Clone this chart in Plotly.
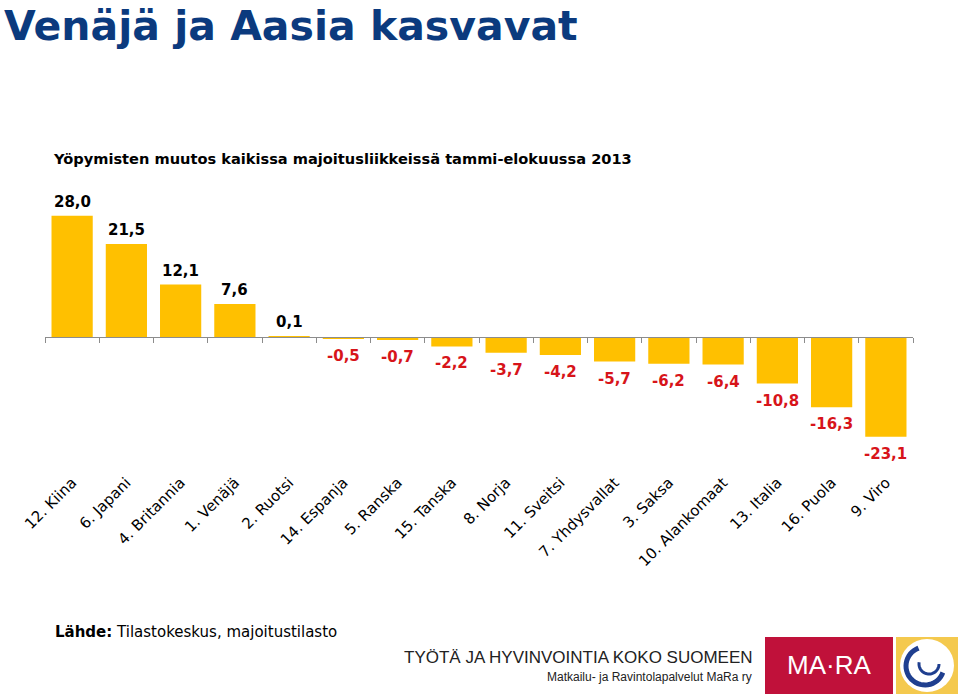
import math
import plotly.graph_objects as go

categories = ["12. Kiina", "6. Japani", "4. Britannia", "1. Venäjä", "2. Ruotsi",
              "14. Espanja", "5. Ranska", "15. Tanska", "8. Norja", "11. Sveitsi",
              "7. Yhdysvallat", "3. Saksa", "10. Alankomaat", "13. Italia",
              "16. Puola", "9. Viro"]
values = [28.0, 21.5, 12.1, 7.6, 0.1, -0.5, -0.7, -2.2, -3.7, -4.2, -5.7,
          -6.2, -6.4, -10.8, -16.3, -23.1]

labels = [f"{v:.1f}".replace(".", ",") for v in values]
label_colors = ["#000000" if v >= 0 else "#D7141A" for v in values]

# plot area geometry (pixels)
L, R, T, B = 45, 913, 199, 470
W, H = 960, 696
YMIN, YMAX = -30.8, 31.9

fig = go.Figure()
fig.add_trace(go.Bar(x=categories, y=values, marker_color="#FFC000",
                     marker_line_width=0, showlegend=False, hoverinfo="skip",
                     xaxis="x", yaxis="y"))
# carrier for the zero-line axis with boundary ticks
fig.add_trace(go.Scatter(x=categories, y=[0] * len(categories), mode="markers",
                         marker=dict(opacity=0), showlegend=False, hoverinfo="skip",
                         xaxis="x2", yaxis="y"))

for c, v, t, col in zip(categories, values, labels, label_colors):
    fig.add_annotation(x=c, y=v, text=f"<b>{t}</b>", showarrow=False,
                       xref="x", yref="y",
                       yanchor="bottom" if v >= 0 else "top",
                       yshift=3 if v >= 0 else -6,
                       font=dict(family="DejaVu Sans", size=15, color=col))

zero_pos = -YMIN / (YMAX - YMIN)
n = len(categories)

fig.update_layout(
    width=W, height=H,
    paper_bgcolor="white", plot_bgcolor="white",
    margin=dict(l=L, r=W - R, t=T, b=H - B, autoexpand=False),
    bargap=0.24,
    xaxis=dict(type="category", range=[-0.5, n - 0.5], ticks="", showline=False,
               tickangle=-45, showgrid=False, automargin=False, fixedrange=True,
               tickfont=dict(family="DejaVu Sans", size=15, color="#000000")),
    xaxis2=dict(type="category", range=[-0.5, n - 0.5], overlaying="x", anchor="free",
                position=zero_pos, side="bottom", tickson="boundaries", ticks="outside",
                ticklen=5, tickcolor="#8C8C8C", showline=True, linecolor="#8C8C8C",
                linewidth=1, showticklabels=False, showgrid=False, automargin=False),
    yaxis=dict(range=[YMIN, YMAX], visible=False, showgrid=False, zeroline=False,
               automargin=False),
    font=dict(family="DejaVu Sans"),
)


def px(pix):
    return (pix - L) / (R - L)


def py(pix):
    return (B - pix) / (B - T)


def text(xp, yp, s, size, color, family="DejaVu Sans", anchor="left", yanchor="middle"):
    fig.add_annotation(xref="paper", yref="paper", x=px(xp), y=py(yp), text=s,
                       showarrow=False, xanchor=anchor, yanchor=yanchor,
                       font=dict(family=family, size=size, color=color))


text(2, 0, "<b>Venäjä ja Aasia kasvavat</b>", 41, "#0B3A7E", yanchor="top")
text(51, 158, "<b>Yöpymisten muutos kaikissa majoitusliikkeissä tammi-elokuussa 2013</b>",
     14.6, "#000000")
text(53, 632, "<b>Lähde:</b> Tilastokeskus, majoitustilasto", 15, "#000000")
text(755, 657, "TYÖTÄ JA HYVINVOINTIA KOKO SUOMEEN", 17, "#222222",
     family="Liberation Sans Narrow, Liberation Sans", anchor="right")
text(754, 677, "Matkailu- ja Ravintolapalvelut MaRa ry", 12, "#222222",
     family="Liberation Sans Narrow, Liberation Sans", anchor="right")

# Logo
fig.add_shape(type="rect", xref="paper", yref="paper", x0=px(765), x1=px(893),
              y0=py(694), y1=py(637), fillcolor="#C0113A", line_width=0, layer="above")
text(829, 665, "MA·RA", 26, "white", family="Liberation Sans", anchor="center")
fig.add_shape(type="rect", xref="paper", yref="paper", x0=px(896), x1=px(958),
              y0=py(694), y1=py(637), fillcolor="#F4C94E", line_width=0, layer="above")
fig.add_shape(type="circle", xref="paper", yref="paper", x0=px(900), x1=px(954),
              y0=py(692), y1=py(639), fillcolor="white", line_width=0, layer="above")


def arc_path(cx, cy, r, a0, a1, steps=30):
    pts = []
    for i in range(steps + 1):
        a = math.radians(a0 + (a1 - a0) * i / steps)
        pts.append((px(cx + r * math.cos(a)), py(cy - r * math.sin(a))))
    return "M " + " L ".join(f"{x:.5f},{y:.5f}" for x, y in pts)


fig.add_shape(type="path", xref="paper", yref="paper",
              path=arc_path(925, 666, 19, 110, 340), line=dict(color="#1F3F8F", width=5),
              layer="above")
fig.add_shape(type="path", xref="paper", yref="paper",
              path=arc_path(929, 664, 10, 170, 360), line=dict(color="#1F3F8F", width=3),
              layer="above")

fig.write_html("out.html", config={"displayModeBar": False},
               post_script="document.body.style.margin='0';")
